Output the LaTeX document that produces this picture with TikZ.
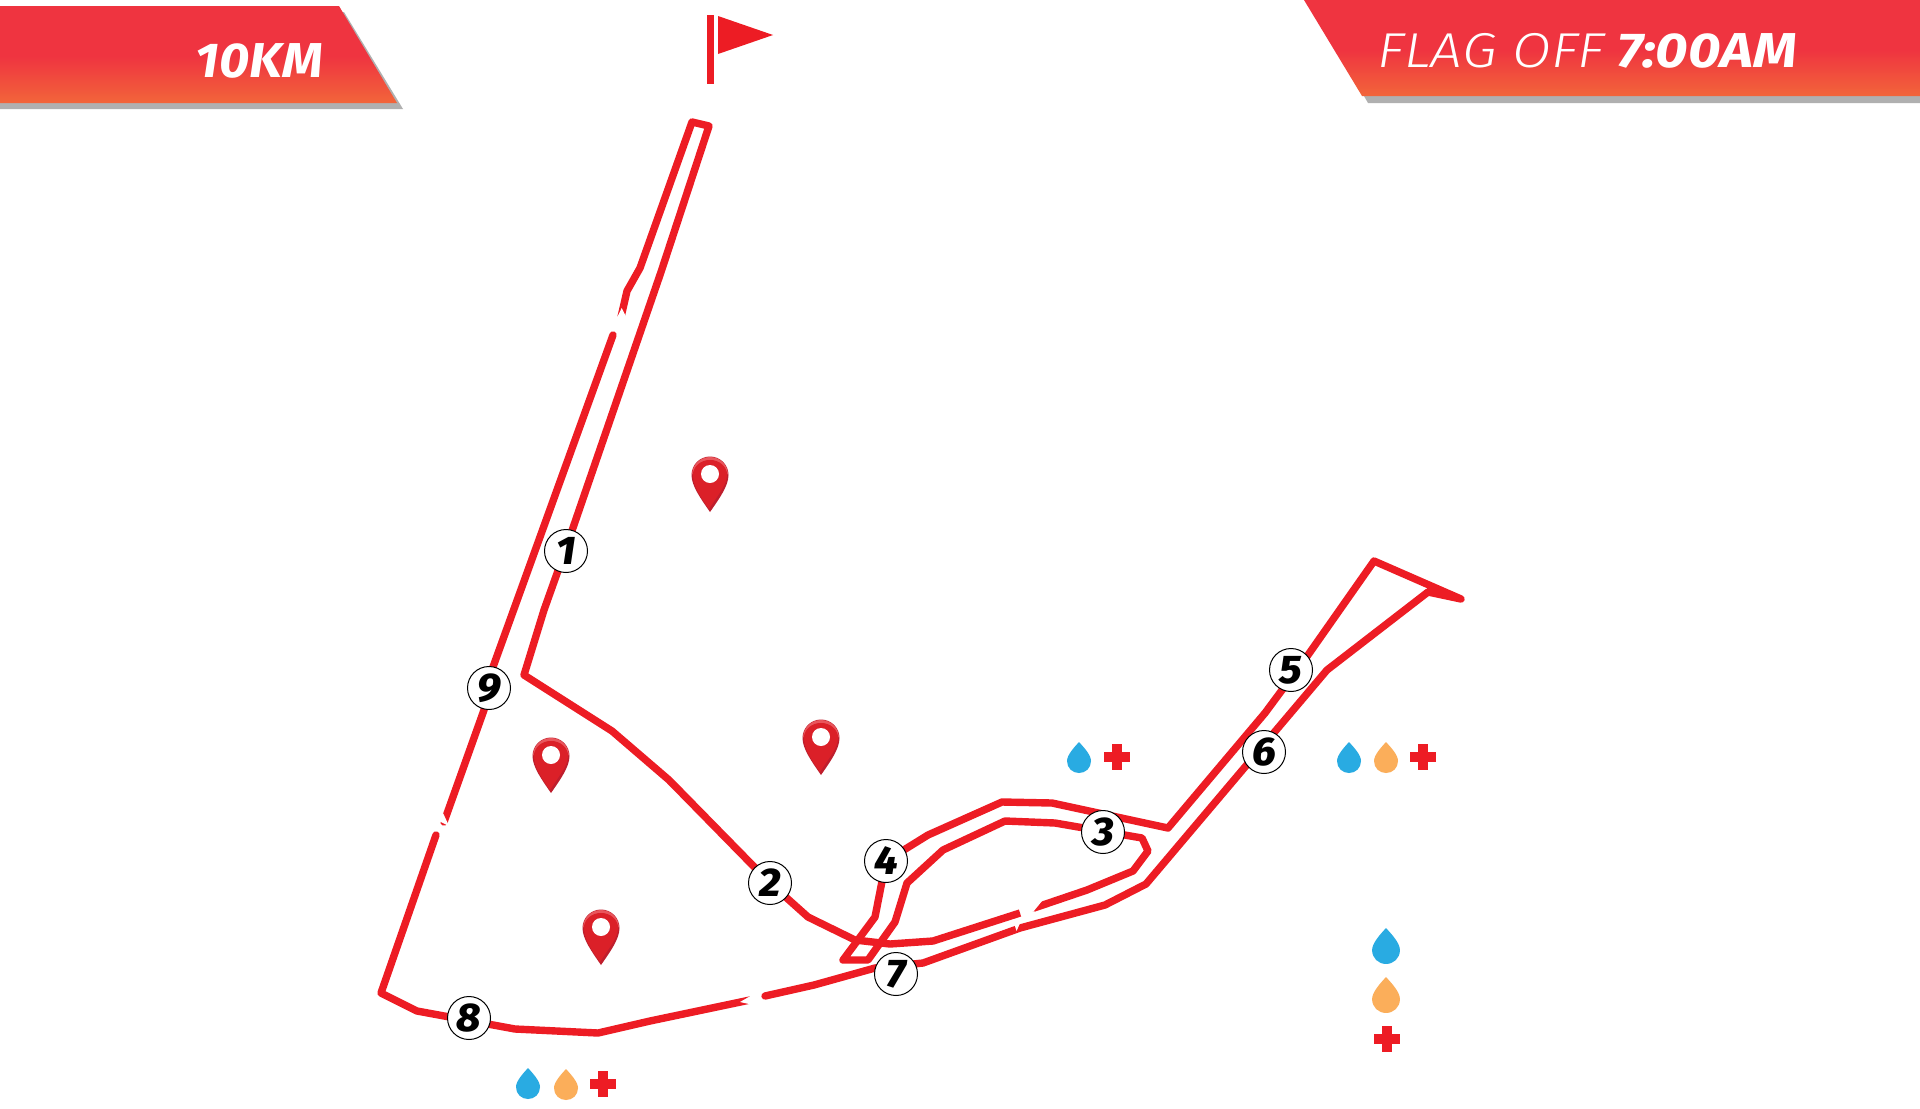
\documentclass[tikz,border=0pt]{standalone}
\usepackage{fontspec}
\setmainfont{Fira Sans}
\newfontfamily\numfont[FakeStretch=1.05]{Fira Sans ExtraBold}
\newfontfamily\distfont[FakeStretch=1.07]{Fira Sans}
\newfontfamily\lightit[FakeStretch=1.15]{Fira Sans Light}
\newfontfamily\flagbold[FakeStretch=1.15]{Fira Sans}
\definecolor{routered}{HTML}{ED1C24}
\definecolor{bannertop}{HTML}{EF3440}
\definecolor{bannerbot}{HTML}{F2653A}
\definecolor{shadowgray}{HTML}{B0B0B0}
\definecolor{waterblue}{HTML}{29ABE2}
\definecolor{drinkorange}{HTML}{FBAE5A}
\definecolor{pinmain}{HTML}{DB2028}
\definecolor{pindark}{HTML}{BE1E2D}
\definecolor{pinlight}{HTML}{E9565C}
\pgfdeclareverticalshading{bannergrad}{100bp}{color(0bp)=(bannerbot); color(25bp)=(bannerbot); color(49bp)=(bannertop); color(100bp)=(bannertop)}
\tikzset{
  route/.style={draw=routered,line width=3.7pt,line join=round,line cap=butt},
  routeround/.style={route,line cap=round},
  cut/.style={fill=white,draw=none},
  marker/.style={circle,draw=black,line width=0.5pt,fill=white,minimum size=21.5pt,inner sep=0pt,font=\fontsize{20}{20}\selectfont\numfont\itshape},
  banner/.style={shading=bannergrad,draw=none},
  shadowbox/.style={fill=shadowgray,draw=none},
  dropmark/.pic={\fill[pic actions] (0,0) .. controls (5,5.5) and (12,13) .. (12,19) .. controls (12,26) and (6.6,31) .. (0,31) .. controls (-6.6,31) and (-12,26) .. (-12,19) .. controls (-12,13) and (-5,5.5) .. (0,0) -- cycle;},
  crossmark/.pic={\fill[routered] (-4.8,-13.4) rectangle (4.8,13.4); \fill[routered] (-13.4,-4.8) rectangle (13.4,4.8);},
  pinmark/.pic={
    \fill[pindark] (0,37) .. controls (-9,24) and (-18.5,11) .. (-18.5,0) .. controls (-18.5,-10.2) and (-10.2,-18.5) .. (0,-18.5) .. controls (10.2,-18.5) and (18.5,-10.2) .. (18.5,0) .. controls (18.5,11) and (9,24) .. (0,37) -- cycle;
    \fill[pinlight] (-18,0) .. controls (-18,-10) and (-10,-18) .. (0,-18) .. controls (10,-18) and (18,-10) .. (18,0) .. controls (15,-8) and (8,-15) .. (0,-15) .. controls (-8,-15) and (-15,-8) .. (-18,0) -- cycle;
    \fill[pinmain] (-1,34) .. controls (-9,23) and (-17,11) .. (-17,0) .. controls (-17,-9) and (-9,-15) .. (0,-15) .. controls (9,-15) and (17,-9) .. (17,0) .. controls (17,6) and (14,11) .. (11,16) -- cycle;
    \fill[white] (0,-1) circle[radius=9];
  }
}
\begin{document}
\begin{tikzpicture}[x=0.5pt,y=-0.5pt]
\useasboundingbox[fill=white] (0,0) rectangle (1920,1108);
% banners
\path[shadowbox] (0,12) -- (344,12) -- (403,109) -- (0,109) -- cycle;
\path[banner] (0,6) -- (339,6) -- (397,103) -- (0,103) -- cycle;
\path[shadowbox] (1320,20) -- (1920,20) -- (1920,103) -- (1368,103) -- cycle;
\path[banner] (1304,0) -- (1920,0) -- (1920,96) -- (1362,96) -- cycle;
\node[anchor=base west,inner sep=0pt,text=white] (dist) at (195,77) {\fontsize{24.5}{24.5}\selectfont\distfont\bfseries\itshape 10KM};
\node[anchor=base west,inner sep=0pt,text=white] (flagoff) at (1377,67) {\fontsize{24.5}{24.5}\selectfont{\lightit\itshape FLAG OFF} {\flagbold\bfseries\itshape 7:00AM}};
% start flag
\fill[routered] (707,15) rectangle (714,84);
\fill[routered] (718,16) -- (773,35) -- (718,54) -- cycle;
% route pieces
\draw[route] (621,317) -- (627,291) -- (640,268) -- (692,122) -- (709,126) -- (661,272) -- (565,551) -- (544,610) -- (524,675) -- (612,731) -- (669,780) -- (770,883) -- (808,917) -- (855,940) -- (890,944) -- (933,941) -- (1020,913);
\draw[routeround,line cap=round] (613,335) -- (493,667) -- (484,710) -- (444,822);
\draw[routeround] (436,835) -- (381,993) -- (417,1011) -- (515,1029) -- (598,1033) -- (650,1021) -- (750,1000);
\draw[routeround] (765,996) -- (814,985) -- (875,968) -- (923,963) -- (1020,928) -- (1105,905) -- (1146,884) -- (1327,670) -- (1428,592) -- (1461,599) -- (1374,561) -- (1308,655) -- (1265,713) -- (1168,828) -- (1140,822) -- (1052,803) -- (1002,802) -- (928,835) -- (886,861) -- (875,917) -- (843,960) -- (868,960) -- (895,922) -- (907,883) -- (943,850) -- (1005,821) -- (1055,823) -- (1142,838) -- (1148,851) -- (1133,871) -- (1087,890) -- (1034,908);
% white cuts at the map breaks
\fill[cut] (621.7,308) -- (615,322) -- (630,325) -- cycle;
\fill[cut] (443,813) -- (435,819) -- (449,826) -- cycle;
\fill[cut] (740,1002) -- (754,994) -- (758,1006) -- cycle;
\fill[cut] (1033,912) -- (1042,901) -- (1032,895) -- (1023,906) -- cycle;
\fill[cut] (1016.5,931) -- (1021,921) -- (1014,923) -- cycle;
% numbered markers
\node[marker] (m1) at (566,551) {1};
\node[marker] (m2) at (770,883) {2};
\node[marker] (m3) at (1103,832) {3};
\node[marker] (m4) at (886,861) {4};
\node[marker] (m5) at (1291,670) {5};
\node[marker] (m6) at (1264,752) {6};
\node[marker] (m7) at (896,974) {7};
\node[marker] (m8) at (469,1018) {8};
\node[marker] (m9) at (489,688) {9};
% location pins
\pic at (710,475) {pinmark};
\pic at (821,738) {pinmark};
\pic at (551,756) {pinmark};
\pic at (601,928) {pinmark};
% aid stations
\pic[fill=waterblue] at (1079,742) {dropmark};
\pic at (1117,757) {crossmark};
\pic[fill=waterblue] at (1349,742) {dropmark};
\pic[fill=drinkorange] at (1386,742) {dropmark};
\pic at (1423,757) {crossmark};
\pic[fill=waterblue] at (528,1068) {dropmark};
\pic[fill=drinkorange] at (566,1069) {dropmark};
\pic at (603,1084) {crossmark};
% legend
\pic[fill=waterblue,scale=1.16] at (1386,928) {dropmark};
\pic[fill=drinkorange,scale=1.16] at (1386,977) {dropmark};
\pic at (1387,1039) {crossmark};
\end{tikzpicture}
\end{document}
